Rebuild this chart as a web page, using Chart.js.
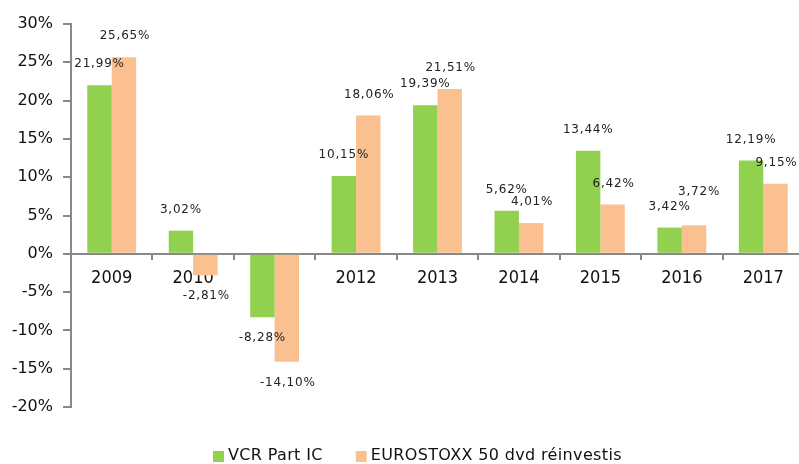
<!DOCTYPE html>
<html><head><meta charset="utf-8">
<script src="https://cdn.jsdelivr.net/npm/chart.js@4/dist/chart.umd.min.js"></script>
<style>html,body{margin:0;padding:0;background:#fff;overflow:hidden}#w{width:806px;height:464px}</style>
</head><body><div id="w"><canvas id="c"></canvas></div>
<script>
const categories = ['2009','2010','2011','2012','2013','2014','2015','2016','2017'];
const vcrPartIC = [21.99, 3.02, -8.28, 10.15, 19.39, 5.62, 13.44, 3.42, 12.19];
const eurostoxx = [25.65, -2.81, -14.10, 18.06, 21.51, 4.01, 6.42, 3.72, 9.15];
const seriesNames = ['VCR Part IC', 'EUROSTOXX 50 dvd réinvestis'];
const seriesColors = ['#92D050', '#FAC090'];
const yTicks = {min: -20, max: 30, step: 5};

const FONT = '"DejaVu Sans", Verdana, sans-serif';
const fmt = v => v.toFixed(2).replace('.', ',') + '%';

const labelPlugin = {
  id: 'vlabels',
  afterDatasetsDraw(chart) {
    const ctx = chart.ctx;
    ctx.save();
    ctx.font = '12px ' + FONT;
    try { ctx.letterSpacing = '0.8px'; } catch (e) {}
    ctx.fillStyle = '#222';
    ctx.textAlign = 'center';
    ctx.textBaseline = 'middle';
    const gap = 21;
    const n = chart.data.labels.length;
    for (let i = 0; i < n; i++) {
      const placed = [];
      chart.data.datasets.forEach((ds, di) => {
        const bar = chart.getDatasetMeta(di).data[i];
        const v = ds.data[i];
        const txt = fmt(v);
        const w = ctx.measureText(txt).width;
        let x = bar.x + (di === 1 ? 1 : 0);
        let y = v >= 0 ? bar.y - gap : bar.y + gap;
        placed.forEach(p => {
          if (Math.abs(p.x - x) < (p.w + w) / 2 && Math.abs(p.y - y) < 10) {
            x += 4;
            y = v >= 0 ? p.y - 15 : p.y + 15;
          }
        });
        ctx.fillText(txt, x, y);
        placed.push({x, y, w});
      });
    }
    ctx.restore();
  }
};

const legendPlugin = {
  id: 'customLegend',
  afterDraw(chart) {
    const ctx = chart.ctx;
    ctx.save();
    ctx.font = '16px ' + FONT;
    try { ctx.letterSpacing = '0.35px'; } catch (e) {}
    ctx.textBaseline = 'middle';
    ctx.textAlign = 'left';
    const y = 456;
    let x = 213;
    chart.data.datasets.forEach((ds, di) => {
      ctx.fillStyle = ds.backgroundColor;
      ctx.fillRect(x, y - 5, 11, 11);
      ctx.fillStyle = '#111';
      ctx.fillText(ds.label, x + 15, y);
      x += 15 + ctx.measureText(ds.label).width + 33;
    });
    ctx.restore();
  }
};

new Chart(document.getElementById('c'), {
  type: 'bar',
  data: {
    labels: categories,
    datasets: [
      {label: seriesNames[0], data: vcrPartIC, backgroundColor: seriesColors[0]},
      {label: seriesNames[1], data: eurostoxx, backgroundColor: seriesColors[1]}
    ]
  },
  options: {
    responsive: true,
    maintainAspectRatio: false,
    animation: false,
    layout: {padding: {top: 24, right: 2, left: 0, bottom: 57}},
    categoryPercentage: 0.6,
    barPercentage: 1.0,
    plugins: {
      legend: {display: false},
      tooltip: {enabled: false}
    },
    scales: {
      x: {
        position: {y: 0},
        z: 1,
        grid: {drawOnChartArea: false, drawTicks: true, tickLength: 5, color: '#888', lineWidth: 2},
        border: {color: '#888', width: 2},
        ticks: {color: '#111', padding: 9, font: {family: '"DejaVu Sans Condensed", "DejaVu Sans", sans-serif', size: 18}}
      },
      y: {
        min: yTicks.min, max: yTicks.max,
        afterFit(s) { s.width = 71; },
        grid: {drawOnChartArea: false, drawTicks: true, tickLength: 8, color: '#888', lineWidth: 2},
        border: {color: '#888', width: 2},
        ticks: {
          stepSize: yTicks.step, padding: 10, color: '#111',
          font: {family: FONT, size: 16},
          callback: v => v + '%'
        }
      }
    }
  },
  plugins: [labelPlugin, legendPlugin]
});
</script></body></html>
